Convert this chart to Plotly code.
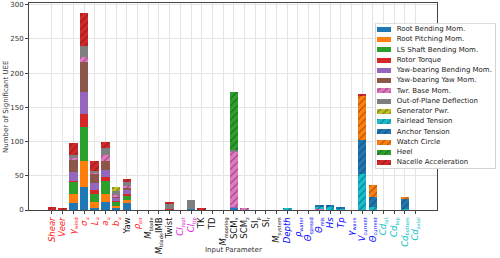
import plotly.graph_objects as go

# ---------------- data ----------------
param_labels = [
    "<i>Shear</i>", "<i>Veer</i>", "<i>γ</i><sub>wind</sub>", "<i>σ</i><sub>u</sub>",
    "<i>L</i><sub>u</sub>", "<i>a</i><sub>u</sub>", "<i>b</i><sub>u</sub>", "Yaw",
    "<i>ρ</i><sub>air</sub>", "<i>M</i><sub>blade</sub>", "<i>M</i><sub>blade</sub>IMB", "Twist",
    "<i>Cl</i><sub>root</sub>", "<i>Cl</i><sub>tip</sub>", "TK", "TD",
    "<i>M</i><sub>mooring</sub>", "SCM<sub>x</sub>", "SCM<sub>z</sub>", "SI<sub>p</sub>",
    "SI<sub>r</sub>", "<i>M</i><sub>system</sub>", "<i>Depth</i>", "<i>ρ</i><sub>water</sub>",
    "<i>Θ</i><sub>spread</sub>", "<i>Θ</i><sub>mis</sub>", "<i>Hs</i>", "<i>Tp</i>",
    "<i>γ</i><sub>wave</sub>", "<i>V</i><sub>current</sub>", "<i>Θ</i><sub>current</sub>",
    "<i>Cd</i><sub>lat</sub>", "<i>Cd</i><sub>top</sub>", "<i>Cd</i><sub>bottom</sub>",
    "<i>Cd</i><sub>axial</sub>",
]
R, K, M, B, C = "#ff1a1a", "#111111", "#e020e0", "#0000ff", "#10c0c8"
label_colors = [R, R, R, R, R, R, R, K, R, K, K, K, M, M, K, K, K, K, K, K, K, K,
                B, B, B, B, B, B, B, B, B, C, C, C, C]

#                   Sh Ve gw su Lu au bu Yw ra Mb MI Tw Cr Ct TK TD Mm Sx Sz Sp Sr Ms De rw Ts Tm Hs Tp gv Vc Tc Cl Ct Cb Ca
root_bending     = [0, 0, 10, 34, 3, 12, 3, 10, 0, 0, 0, 0, 0, 2, 0, 0, 0, 3, 0, 0, 0, 0, 0, 0, 0, 0, 0, 0, 0, 0, 0, 0, 0, 0, 0]
root_pitching    = [0, 1, 13, 37, 8, 11, 3, 5, 0, 0, 0, 0, 0, 0, 0, 0, 0, 0, 0, 0, 0, 0, 0, 0, 0, 0, 0, 0, 0, 0, 0, 0, 0, 0, 0]
ls_shaft         = [0, 0, 19, 50, 12, 20, 6, 6, 0, 0, 0, 0, 0, 0, 0, 0, 0, 0, 0, 0, 0, 0, 0, 0, 0, 0, 0, 0, 0, 0, 0, 0, 0, 0, 0]
rotor_torque     = [1, 0, 1, 19, 6, 5, 1, 2, 0, 0, 0, 1, 0, 0, 1, 0, 0, 0, 1, 0, 0, 0, 0, 0, 0, 0, 0, 0, 0, 0, 0, 0, 0, 0, 0]
yaw_bending      = [0, 0, 13, 33, 10, 11, 5, 6, 0, 0, 0, 0, 0, 0, 0, 0, 0, 2, 0, 0, 0, 0, 0, 0, 0, 0, 0, 0, 0, 0, 0, 0, 0, 0, 0]
yaw_yaw          = [0, 0, 17, 43, 13, 13, 2, 3, 0, 0, 0, 0, 0, 0, 0, 0, 0, 0, 0, 0, 0, 0, 0, 0, 0, 0, 0, 0, 0, 0, 0, 0, 0, 0, 0]
twr_base         = [0, 0, 3, 7, 3, 9, 2, 3, 0, 0, 0, 0, 0, 0, 0, 0, 0, 80, 1, 0, 0, 0, 0, 0, 0, 1, 0, 0, 0, 0, 0, 0, 0, 0, 0]
oop_deflection   = [0, 0, 5, 17, 2, 9, 6, 6, 0, 0, 0, 9, 0, 12, 0, 0, 0, 3, 0, 0, 0, 0, 1, 0, 0, 0, 0, 0, 0, 0, 0, 0, 0, 0, 0]
generator_pwr    = [0, 0, 0, 0, 0, 0, 5, 0, 0, 0, 0, 0, 0, 0, 0, 0, 0, 0, 0, 0, 0, 0, 0, 0, 0, 0, 0, 0, 0, 0, 0, 0, 0, 0, 0]
fairlead_tension = [0, 0, 0, 0, 0, 0, 0, 0, 0, 0, 0, 0, 0, 0, 0, 0, 0, 0, 0, 0, 0, 0, 1, 0, 0, 4, 5, 1, 0, 52, 5, 0, 0, 1, 0]
anchor_tension   = [0, 0, 0, 0, 0, 0, 0, 0, 0, 0, 0, 0, 0, 0, 0, 0, 0, 0, 0, 0, 0, 0, 0, 0, 0, 3, 3, 3, 0, 50, 14, 0, 0, 15, 0]
watch_circle     = [0, 0, 0, 0, 0, 0, 0, 0, 0, 0, 0, 0, 0, 0, 0, 0, 0, 0, 0, 0, 0, 0, 0, 0, 0, 0, 0, 0, 0, 66, 18, 0, 0, 3, 0]
heel             = [0, 0, 0, 0, 0, 0, 0, 0, 0, 0, 0, 0, 0, 0, 0, 0, 0, 85, 0, 0, 0, 0, 0, 0, 0, 0, 0, 0, 0, 0, 0, 0, 0, 0, 0]
nacelle_accel    = [3, 2, 17, 48, 14, 10, 0, 4, 0, 0, 0, 1, 0, 0, 1, 0, 0, 0, 0, 0, 0, 0, 0, 0, 0, 0, 0, 0, 0, 2, 0, 0, 0, 0, 0]

series_names = ["Root Bending Mom.", "Root Pitching Mom.", "LS Shaft Bending Mom.", "Rotor Torque",
                "Yaw-bearing Bending Mom.", "Yaw-bearing Yaw Mom.", "Twr. Base Mom.",
                "Out-of-Plane Deflection", "Generator Pwr.", "Fairlead Tension", "Anchor Tension",
                "Watch Circle", "Heel", "Nacelle Acceleration"]
series_values = [root_bending, root_pitching, ls_shaft, rotor_torque, yaw_bending, yaw_yaw,
                 twr_base, oop_deflection, generator_pwr, fairlead_tension, anchor_tension,
                 watch_circle, heel, nacelle_accel]
series_colors = ["#1f77b4", "#ff7f0e", "#2ca02c", "#d62728", "#9467bd", "#8c564b", "#e377c2",
                 "#7f7f7f", "#bcbd22", "#17becf", "#1f77b4", "#ff7f0e", "#2ca02c", "#d62728"]
series_hatched = [False, False, False, False, False, False, True,
                  False, True, True, True, True, True, True]

# ---------------- figure ----------------
W, H = 500, 258
ML, MR, MT, MB = 29, 4, 3, 48
pw, ph = W - ML - MR, H - MT - MB
main_right = (437 - ML) / pw

def marker_for(color, hatched):
    m = dict(color=color, line=dict(width=0))
    if hatched:
        m["pattern"] = dict(shape="/", fillmode="overlay", fgcolor="#1a1a1a", size=5, solidity=0.2)
    return m

fig = go.Figure()
xs = list(range(len(param_labels)))
for name, vals, col, hat in zip(series_names, series_values, series_colors, series_hatched):
    fig.add_trace(go.Bar(x=xs, y=vals, name=name, width=0.8, marker=marker_for(col, hat),
                         showlegend=False, xaxis="x", yaxis="y"))

# custom legend drawn on a hidden overlay axis (pixel units)
box_w = 121.5
box_h = 145.7
row0, drow = 6.0, 10.26
fig.add_trace(go.Bar(x=[box_w - 1.0], y=[box_h / 2], base=[-1.7], orientation="h",
                     width=box_h - 1.0,
                     marker=dict(color="rgba(255,255,255,0.92)", line=dict(color="#d4d4d4", width=1)),
                     showlegend=False, hoverinfo="skip", xaxis="x2", yaxis="y2"))
for i, (name, col, hat) in enumerate(zip(series_names, series_colors, series_hatched)):
    yy = row0 + i * drow
    fig.add_trace(go.Bar(x=[14], y=[yy], base=[0], orientation="h", width=4.9,
                         marker=marker_for(col, hat),
                         showlegend=False, hoverinfo="skip", xaxis="x2", yaxis="y2"))
fig.add_trace(go.Scatter(x=[20.0] * len(series_names),
                         y=[row0 + i * drow for i in range(len(series_names))],
                         mode="text", text=series_names, textposition="middle right",
                         textfont=dict(size=7, color="#222", family="DejaVu Sans"),
                         showlegend=False, hoverinfo="skip", xaxis="x2", yaxis="y2",
                         cliponaxis=False))

def style_label(t, c):
    t = t.replace("<sub>", '<sub><span style="font-size:5px">').replace("</sub>", "</span></sub>")
    return f'<span style="color:{c}">{t}</span>'

ticktext = [style_label(t, c) for t, c in zip(param_labels, label_colors)]

axis_common = dict(showgrid=True, gridcolor="#e4e4e4", gridwidth=1, ticks="outside", ticklen=3,
                   tickcolor="#444", showline=True, linecolor="#444", linewidth=1, mirror=True,
                   zeroline=False, automargin=False)

fig.update_layout(
    template="none",
    width=W, height=H, margin=dict(l=ML, r=MR, t=MT, b=MB),
    paper_bgcolor="white", plot_bgcolor="white",
    barmode="stack", bargap=0.2,
    font=dict(family="DejaVu Sans", size=7, color="#333"),
    xaxis=dict(domain=[0, main_right], range=[-2.15, 36.0], tickmode="array", tickvals=xs,
               ticktext=ticktext, tickangle=-90, tickfont=dict(size=8.5), **axis_common),
    yaxis=dict(range=[0, 302.5], dtick=50, tickfont=dict(size=7, color="#333"), **axis_common),
    xaxis2=dict(domain=[(374.5 - ML) / pw, 1.0], range=[-2.2, box_w - 2.2], visible=False,
                anchor="y2", fixedrange=True, automargin=False),
    yaxis2=dict(domain=[(210 - 169) / ph, (210 - 23.3) / ph], range=[box_h, 0], visible=False,
                anchor="x2", fixedrange=True, automargin=False),
    annotations=[
        dict(text="Input Parameter", xref="paper", yref="paper", x=main_right / 2,
             y=(MT + ph - 250) / ph, xanchor="center", yanchor="middle", showarrow=False,
             font=dict(size=7, color="#333")),
        dict(text="Number of Significant UEE", xref="paper", yref="paper", x=(6 - ML) / pw,
             y=(210 - 107) / ph, xanchor="center", yanchor="middle", textangle=-90,
             showarrow=False, font=dict(size=7, color="#333")),
    ],
)

fig.write_html("out.html", config={"displayModeBar": False},
               post_script="document.body.style.margin='0';")
